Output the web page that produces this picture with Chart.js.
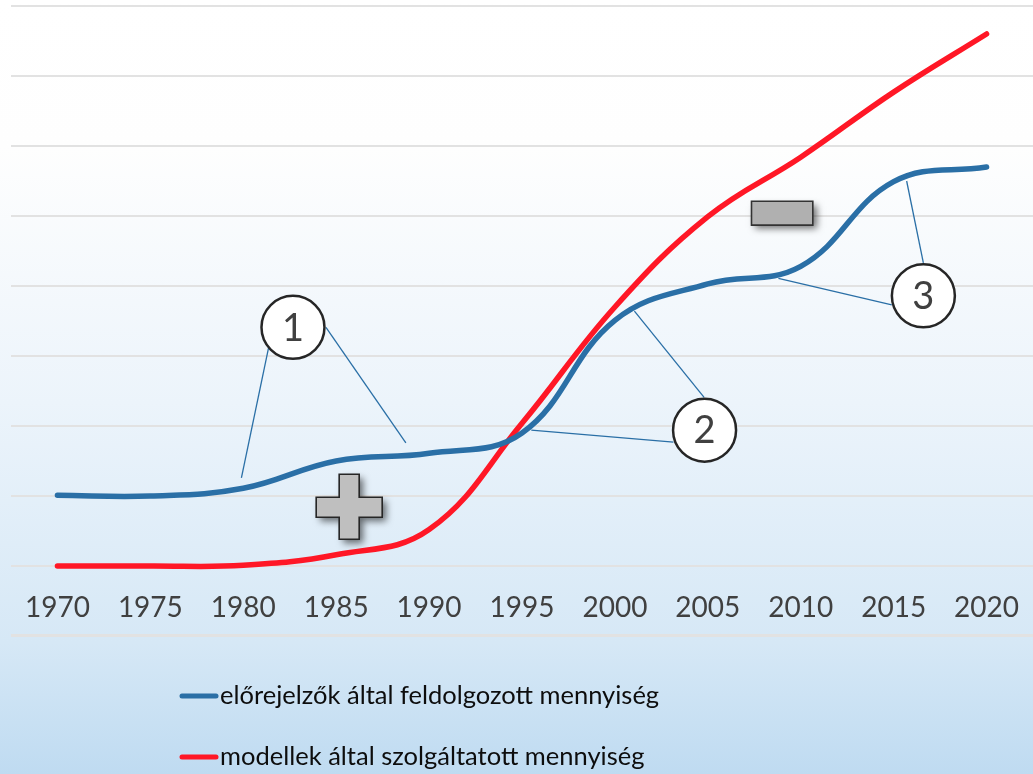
<!DOCTYPE html>
<html>
<head>
<meta charset="utf-8">
<script src="https://cdn.jsdelivr.net/npm/chart.js@4.4.1/dist/chart.umd.min.js"></script>
<style>
html,body{margin:0;padding:0;background:#fff;}
#wrap{width:1033px;height:774px;position:relative;}
</style>
</head>
<body>
<div id="wrap"><canvas id="c" width="1033" height="774"></canvas></div>
<script>
const years = ['1970','1975','1980','1985','1990','1995','2000','2005','2010','2015','2020'];
const forecasterValues = [1.01, 1.0, 1.11, 1.5, 1.61, 1.9, 3.51, 4.03, 4.28, 5.49, 5.7];
const modelValues = [0, 0, 0.01, 0.16, 0.52, 2.04, 3.7, 4.99, 5.84, 6.77, 7.6];
const seriesLabels = ['előrejelzők által feldolgozott mennyiség', 'modellek által szolgáltatott mennyiség'];
const yMin = -1, yMax = 8, yStep = 1;

const FONT = "Lato, 'Open Sans', sans-serif";
const BLUE = '#2a6fa6';
const RED = '#ff1726';

const bgPlugin = {
  id: 'bg',
  beforeDraw(chart) {
    const ctx = chart.ctx, w = chart.width, h = chart.height;
    const g = ctx.createLinearGradient(0, 0, 0, h);
    g.addColorStop(0, '#ffffff');
    g.addColorStop(0.19, '#fefefe');
    g.addColorStop(0.52, '#ecf4fb');
    g.addColorStop(0.83, '#d6e8f6');
    g.addColorStop(1, '#bfdbf1');
    ctx.save();
    ctx.fillStyle = g;
    ctx.fillRect(0, 0, w, h);
    ctx.restore();
  }
};

// annotation callouts in data coordinates (x = category index, y = value)
const callouts = [
  {label: '1', cx: 2.535, cy: 3.41, targets: [[[2.29, 3.23], [1.98, 1.26]], [[2.89, 3.41], [3.75, 1.76]]]},
  {label: '2', cx: 6.965, cy: 1.94, targets: [[[6.63, 1.77], [5.10, 1.94]], [[6.96, 2.41], [6.21, 3.64]]]},
  {label: '3', cx: 9.32, cy: 3.86, targets: [[[8.98, 3.73], [7.76, 4.11]], [[9.32, 4.33], [9.14, 5.5]]]}
];

function shadowed(ctx, fn) {
  ctx.save();
  ctx.shadowColor = 'rgba(0,0,0,0.55)';
  ctx.shadowBlur = 7;
  ctx.shadowOffsetX = 4;
  ctx.shadowOffsetY = 4;
  fn();
  ctx.restore();
}

const annotPlugin = {
  id: 'annot',
  afterDatasetsDraw(chart) {
    const ctx = chart.ctx;
    const xs = chart.scales.x, ys = chart.scales.y;
    const px = v => xs.getPixelForValue(v);
    const py = v => ys.getPixelForValue(v);
    ctx.save();
    // bottom grid line at the lower edge of the plot
    ctx.strokeStyle = '#e2e2e2';
    ctx.lineWidth = 2;
    ctx.beginPath();
    ctx.moveTo(chart.chartArea.left, py(yMin) - 1);
    ctx.lineTo(chart.chartArea.right, py(yMin) - 1);
    ctx.stroke();
    // leader lines
    ctx.strokeStyle = BLUE;
    ctx.lineWidth = 1.3;
    callouts.forEach(c => {
      c.targets.forEach(t => {
        ctx.beginPath();
        ctx.moveTo(px(t[0][0]), py(t[0][1]));
        ctx.lineTo(px(t[1][0]), py(t[1][1]));
        ctx.stroke();
      });
    });
    // circles
    callouts.forEach(c => {
      const x = px(c.cx), y = py(c.cy);
      ctx.beginPath();
      ctx.arc(x, y, 31.5, 0, Math.PI * 2);
      ctx.fillStyle = '#ffffff';
      ctx.fill();
      ctx.lineWidth = 2.5;
      ctx.strokeStyle = '#262626';
      ctx.stroke();
      ctx.fillStyle = '#404040';
      ctx.font = "38px " + FONT;
      ctx.textAlign = 'center';
      ctx.textBaseline = 'middle';
      ctx.fillText(c.label, x, y + 1);
    });
    // plus sign
    const pcx = px(3.14), pcy = py(0.84);
    const arm = 33, half = 10;
    ctx.beginPath();
    ctx.moveTo(pcx - half, pcy - arm);
    ctx.lineTo(pcx + half, pcy - arm);
    ctx.lineTo(pcx + half, pcy - half);
    ctx.lineTo(pcx + arm, pcy - half);
    ctx.lineTo(pcx + arm, pcy + half);
    ctx.lineTo(pcx + half, pcy + half);
    ctx.lineTo(pcx + half, pcy + arm - 1);
    ctx.lineTo(pcx - half, pcy + arm - 1);
    ctx.lineTo(pcx - half, pcy + half);
    ctx.lineTo(pcx - arm, pcy + half);
    ctx.lineTo(pcx - arm, pcy - half);
    ctx.lineTo(pcx - half, pcy - half);
    ctx.closePath();
    shadowed(ctx, () => { ctx.fillStyle = '#bfbfbf'; ctx.fill(); });
    ctx.lineWidth = 1.6;
    ctx.strokeStyle = '#262626';
    ctx.stroke();
    // minus sign
    const mx0 = px(7.47), mx1 = px(8.13), my0 = py(5.21), my1 = py(4.87);
    ctx.beginPath();
    ctx.rect(mx0, my0, mx1 - mx0, my1 - my0);
    shadowed(ctx, () => { ctx.fillStyle = '#b0b0b0'; ctx.fill(); });
    ctx.lineWidth = 1.6;
    ctx.strokeStyle = '#333333';
    ctx.stroke();
    ctx.restore();
  }
};

const legendPlugin = {
  id: 'customLegend',
  afterDraw(chart) {
    const ctx = chart.ctx;
    const rows = [696, 757];
    ctx.save();
    chart.data.datasets.forEach((ds, i) => {
      const y = rows[i];
      ctx.strokeStyle = ds.borderColor;
      ctx.lineWidth = 5;
      ctx.lineCap = 'round';
      ctx.beginPath();
      ctx.moveTo(182, y);
      ctx.lineTo(216, y);
      ctx.stroke();
      ctx.fillStyle = '#0d0d0d';
      ctx.font = "25.5px " + FONT;
      ctx.textAlign = 'left';
      ctx.textBaseline = 'middle';
      ctx.fillText(ds.label, 220, y);
    });
    ctx.restore();
  }
};

new Chart(document.getElementById('c'), {
  type: 'line',
  data: {
    labels: years,
    datasets: [
      {label: seriesLabels[0], data: forecasterValues, borderColor: BLUE, borderWidth: 5.5, tension: 0.4, pointRadius: 0, borderCapStyle: 'round', fill: false},
      {label: seriesLabels[1], data: modelValues, borderColor: RED, borderWidth: 5.5, tension: 0.4, pointRadius: 0, borderCapStyle: 'round', fill: false}
    ]
  },
  options: {
    responsive: false,
    animation: false,
    layout: {padding: {left: 11, right: 0, top: 6, bottom: 138}},
    plugins: {legend: {display: false}, tooltip: {enabled: false}},
    scales: {
      x: {
        type: 'category',
        offset: true,
        position: {y: 0},
        grid: {display: false, drawTicks: false},
        border: {display: false},
        ticks: {color: '#404040', font: {family: FONT, size: 28}, padding: 25, maxRotation: 0, autoSkip: false},
        afterFit(scale) { scale.paddingLeft = 0; scale.paddingRight = 0; }
      },
      y: {
        min: yMin,
        max: yMax,
        ticks: {display: false, stepSize: yStep},
        grid: {color: '#e2e2e2', lineWidth: 2, drawTicks: false},
        border: {display: false}
      }
    }
  },
  plugins: [bgPlugin, annotPlugin, legendPlugin]
});
</script>
</body>
</html>
